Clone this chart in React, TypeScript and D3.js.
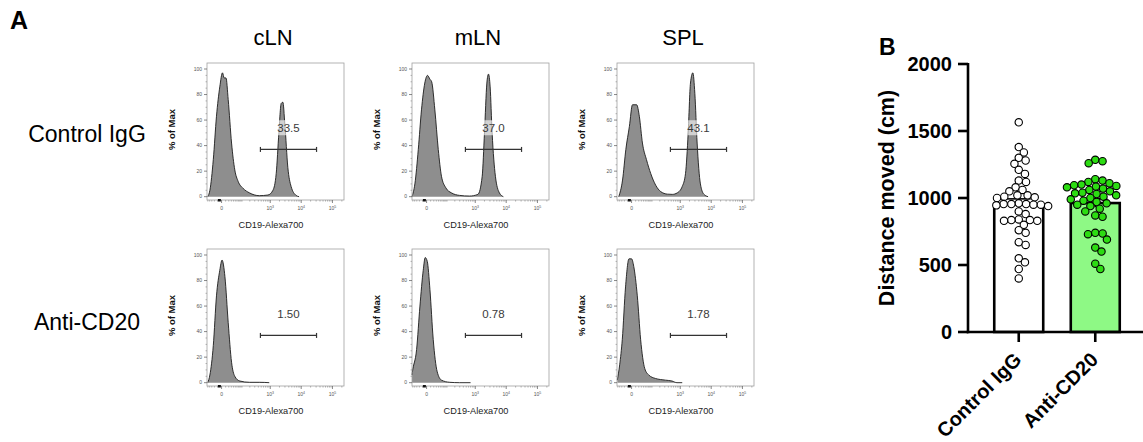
import React from "react";
import * as d3 from "d3";

const FONT = "Arial, 'Liberation Sans', Helvetica, sans-serif";

// Panel A: flow histograms, [CD19-Alexa700 intensity, % of Max]
const tissues = ["cLN", "mLN", "SPL"];
const treatments = ["Control IgG", "Anti-CD20"];
const gatePercents = [
  ["33.5", "37.0", "43.1"],
  ["1.50", "0.78", "1.78"],
];

const cLNControl = [
  [-51, 0], [-39, 5], [-24, 29], [-13, 63], [-4, 86], [2, 97], [6, 93], [11, 93], [18, 76],
  [31, 42], [47, 21], [68, 12], [111, 6.5], [193, 3], [431, 0.8], [840, 1.3], [1224, 5],
  [1565, 18], [1913, 50], [2268, 73], [2571, 74], [2980, 57], [3720, 23], [4740, 8],
  [6850, 1], [8540, 0],
];
const mLNControl = [
  [-55, 0], [-39, 10], [-24, 37], [-13, 68], [-4, 89], [2, 95], [8, 92], [13, 90], [24, 68],
  [39, 37], [57, 16], [89, 7], [149, 3], [297, 1], [649, 0.5], [1224, 1.8], [1686, 16],
  [2000, 50], [2388, 89], [2688, 96], [3049, 86], [3532, 50], [4505, 16], [6040, 3], [8100, 0],
];
const splControl = [
  [-45, 0], [-27, 13], [-15, 37], [-5, 55], [2, 72], [13, 72], [22, 63], [35, 42], [57, 29],
  [89, 18], [140, 9], [215, 4], [369, 2], [544, 1.8], [797, 3], [1161, 8], [1484, 18],
  [1816, 50], [2154, 89], [2571, 97], [2980, 81], [3532, 42], [4505, 10], [5780, 2], [7930, 0],
];
const cLNAnti = [
  [-51, 0], [-39, 6], [-24, 29], [-13, 68], [-4, 88], [1, 96], [8, 83], [18, 47], [31, 16],
  [47, 5], [81, 1.3], [193, 0.3], [431, 0.3], [927, 0],
];
const mLNAnti = [
  [-55, 6], [-53, 8], [-31, 26], [-18, 60], [-8, 88], [-3, 98], [1.5, 95], [8, 73], [18, 34],
  [34, 8.5], [57, 2], [128, 0.3], [297, 0], [700, 0],
];
const splAnti = [
  [-53, 2], [-40, 14], [-28, 34], [-16, 75], [-6, 97], [0, 97], [5, 91], [15, 68], [27, 34],
  [47, 11], [73, 6], [137, 3.3], [315, 2], [532, 1.3], [778, 0], [1161, 0],
];
const histograms = [
  [cLNControl, mLNControl, splControl],
  [cLNAnti, mLNAnti, splAnti],
];

const gateBounds = [470, 31000];
const gateLevel = 37;
const cd19Ticks = [0, 1e3, 1e4, 1e5];
const cd19Exponents = ["", "3", "4", "5"];
const pctTicks = [0, 20, 40, 60, 80, 100];

// Panel B: distance moved per mouse
const groups = ["Control IgG", "Anti-CD20"];
const controlIgG = [
  1565, 1380, 1340, 1300, 1280, 1255, 1210, 1180, 1130, 1120, 1080, 1060, 1050, 1020, 1020,
  1010, 1005, 1000, 960, 955, 955, 955, 950, 950, 945, 940, 900, 880, 840, 835, 835, 830, 830,
  800, 760, 740, 670, 650, 550, 520, 470, 400,
];
const antiCD20 = [
  1285, 1275, 1260, 1140, 1130, 1120, 1110, 1100, 1095, 1090, 1085, 1080, 1070, 1060, 1050,
  1040, 1035, 1030, 1020, 1010, 1000, 990, 980, 970, 960, 950, 940, 920, 900, 870, 860, 740,
  735, 730, 690, 630, 600, 510, 470,
];
const distanceTicks = [0, 500, 1000, 1500, 2000];

function beeswarm(values: number[], y: (v: number) => number, r: number) {
  const placed: { x: number; y: number }[] = [];
  const out: { x: number; y: number }[] = new Array(values.length);
  const order = d3.range(values.length).sort((a, b) => values[b] - values[a]);
  const d2 = 4 * r * r;
  for (const i of order) {
    const yi = y(values[i]);
    const cands = [0];
    for (const p of placed) {
      const dy = yi - p.y;
      if (Math.abs(dy) < 2 * r) {
        const dx = Math.sqrt(d2 - dy * dy);
        cands.push(p.x + dx, p.x - dx);
      }
    }
    cands.sort((a, b) => Math.abs(a) - Math.abs(b));
    const x = cands.find((c) => placed.every((p) => (c - p.x) ** 2 + (yi - p.y) ** 2 >= d2 - 0.01)) ?? 0;
    placed.push({ x, y: yi });
    out[i] = { x, y: yi };
  }
  return out;
}

function FlowPanel({ data, left, top, gateText }: any) {
  const w = 137, h = 137;
  const x = d3.scaleSymlog().constant(28.6).domain([-55, 234000]).range([left, left + w]);
  const y = d3.scaleLinear().domain([-2.6, 104.7]).range([top + h, top]);
  const area = d3.area<number[]>()
    .x((d) => x(d[0]))
    .y0(y(0))
    .y1((d) => y(d[1]))
    .curve(d3.curveMonotoneX);
  const outline = area.lineY1();
  const minorY = d3.range(0, 101, 5).filter((v) => v % 20 !== 0);
  const minorX = [
    ...d3.range(-50, 0, 10), ...d3.range(10, 100, 10), ...d3.range(100, 1000, 100),
    ...d3.range(2000, 10000, 1000), ...d3.range(20000, 100000, 10000), 200000,
  ];
  const gx0 = x(gateBounds[0]);
  const gx1 = x(gateBounds[1]);
  const gy = y(gateLevel);
  const lx = (gx0 + gx1) / 2;
  const ly = y(54);
  const bottom = top + h;
  return (
    <g>
      <path d={area(data) ?? ""} fill="#8e8e8e" />
      <path d={outline(data) ?? ""} fill="none" stroke="#1c1c1c" strokeWidth={0.9} />
      <rect x={left} y={top} width={w} height={h} fill="none" stroke="#a0a0a0" strokeWidth={0.8} />
      {/* y axis */}
      {pctTicks.map((t) => (
        <g key={t}>
          <line x1={left - 3} x2={left} y1={y(t)} y2={y(t)} stroke="#555" strokeWidth={0.7} />
          <text x={left - 5} y={y(t) + 1.8} textAnchor="end" fontSize={5} fill="#555" fontFamily={FONT}>{t}</text>
        </g>
      ))}
      {minorY.map((t) => (
        <line key={t} x1={left - 1.5} x2={left} y1={y(t)} y2={y(t)} stroke="#777" strokeWidth={0.5} />
      ))}
      {/* x axis */}
      {cd19Ticks.map((t, i) => (
        <g key={t}>
          <line x1={x(t)} x2={x(t)} y1={bottom} y2={bottom + 3} stroke="#555" strokeWidth={0.7} />
          <text x={x(t)} y={bottom + 10} textAnchor="middle" fontSize={5} fill="#555" fontFamily={FONT}>
            {i === 0 ? "0" : "10"}
            {i > 0 && <tspan dy={-2} fontSize={3.5}>{cd19Exponents[i]}</tspan>}
          </text>
        </g>
      ))}
      {minorX.map((t) => (
        <line key={t} x1={x(t)} x2={x(t)} y1={bottom} y2={bottom + 1.6} stroke="#777" strokeWidth={0.5} />
      ))}
      <rect x={x(-5) - 1.5} y={bottom - 1} width={3} height={2.5} fill="#111" />
      {/* gate */}
      <line x1={gx0} x2={gx1} y1={gy} y2={gy} stroke="#333" strokeWidth={1.2} />
      <line x1={gx0} x2={gx0} y1={gy - 2.5} y2={gy + 2.5} stroke="#333" strokeWidth={1.2} />
      <line x1={gx1} x2={gx1} y1={gy - 2.5} y2={gy + 2.5} stroke="#333" strokeWidth={1.2} />
      <rect x={lx - 11} y={ly - 7.5} width={22} height={15} fill="#fff" opacity={0.6} />
      <text x={lx} y={ly + 4} textAnchor="middle" fontSize={11.5} fill="#3a3a3a" fontFamily={FONT}>{gateText}</text>
      {/* labels */}
      <text transform={`translate(${left - 32},${top + h / 2 - 2}) rotate(-90)`} textAnchor="middle" fontSize={9.5} fontWeight="bold" fill="#111" fontFamily={FONT}>% of Max</text>
      <text x={left + 64} y={bottom + 28} textAnchor="middle" fontSize={9.2} fill="#222" fontFamily={FONT}>CD19-Alexa700</text>
    </g>
  );
}

export default function App() {
  const W = 1143, H = 442;
  const panelLefts = tissues.map((_, i) => 207 + i * 205);
  const panelTops = [63, 249];
  const rowBaselines = [142, 330];

  const yBar = d3.scaleLinear().domain([0, 2000]).range([332, 64]);
  const xBar = d3.scaleBand().domain(groups).range([968, 1146]).paddingInner(0.36).paddingOuter(0.343);
  const series = [controlIgG, antiCD20];
  const r = 3.7;

  return (
    <svg width={W} height={H} style={{ position: "absolute", left: 0, top: 0 }} fontFamily={FONT}>
      <rect width={W} height={H} fill="#fff" />
      <text x={10} y={29} fontSize={25} fontWeight="bold">A</text>
      <text x={879} y={55} fontSize={23} fontWeight="bold">B</text>

      {tissues.map((t, i) => (
        <text key={t} x={panelLefts[i] + 66} y={45} textAnchor="middle" fontSize={22}>{t}</text>
      ))}
      {treatments.map((t, j) => (
        <text key={t} x={87} y={rowBaselines[j]} textAnchor="middle" fontSize={23}>{t}</text>
      ))}
      {histograms.map((row, j) =>
        row.map((data, i) => (
          <FlowPanel key={`${j}-${i}`} data={data} left={panelLefts[i]} top={panelTops[j]} gateText={gatePercents[j][i]} />
        ))
      )}

      {/* Panel B */}
      {series.map((vals, k) => {
        const g = groups[k];
        const m = d3.mean(vals) ?? 0;
        const sem = (d3.deviation(vals) ?? 0) / Math.sqrt(vals.length);
        const cx = (xBar(g) ?? 0) + xBar.bandwidth() / 2;
        return (
          <g key={g}>
            <rect x={xBar(g)} y={yBar(m)} width={xBar.bandwidth()} height={yBar(0) - yBar(m)}
              fill={k === 0 ? "#fff" : "#8ef985"} stroke="#000" strokeWidth={2.6} />
            <line x1={cx} x2={cx} y1={yBar(m - sem)} y2={yBar(m + sem)} stroke="#000" strokeWidth={1.6} />
            <line x1={cx - 12} x2={cx + 12} y1={yBar(m + sem)} y2={yBar(m + sem)} stroke="#000" strokeWidth={1.6} />
          </g>
        );
      })}
      {series.map((vals, k) => {
        const g = groups[k];
        const cx = (xBar(g) ?? 0) + xBar.bandwidth() / 2;
        const pts = beeswarm(vals, yBar, r);
        return (
          <g key={`dots-${g}`}>
            {pts.map((p, i) => (
              <circle key={i} cx={cx + p.x} cy={p.y} r={r}
                fill={k === 0 ? "#fff" : "#2cdc12"} stroke="#000" strokeWidth={1.1} />
            ))}
          </g>
        );
      })}
      <line x1={968} x2={968} y1={yBar(2000) - 1} y2={yBar(0) + 1.3} stroke="#000" strokeWidth={2.6} />
      <line x1={966.7} x2={W} y1={yBar(0)} y2={yBar(0)} stroke="#000" strokeWidth={2.6} />
      {distanceTicks.map((t) => (
        <g key={t}>
          <line x1={958} x2={968} y1={yBar(t)} y2={yBar(t)} stroke="#000" strokeWidth={2.6} />
          <text x={952} y={yBar(t) + 7} textAnchor="end" fontSize={20} fontWeight="bold">{t}</text>
        </g>
      ))}
      {groups.map((g) => {
        const cx = (xBar(g) ?? 0) + xBar.bandwidth() / 2;
        return (
          <g key={`xt-${g}`}>
            <line x1={cx} x2={cx} y1={yBar(0)} y2={yBar(0) + 10} stroke="#000" strokeWidth={2.6} />
            <text transform={`translate(${cx + 4},${361}) rotate(-45)`} textAnchor="end" fontSize={20} fontWeight="bold">{g}</text>
          </g>
        );
      })}
      <text transform="translate(894,198) rotate(-90)" textAnchor="middle" fontSize={21.5} fontWeight="bold">Distance moved (cm)</text>
    </svg>
  );
}
